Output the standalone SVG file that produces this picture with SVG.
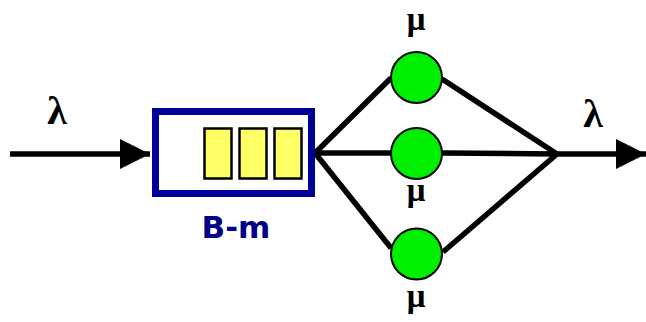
<svg xmlns="http://www.w3.org/2000/svg" width="646" height="322" viewBox="0 0 646 322">
<style>
.ln{stroke:#000;stroke-width:5.5;fill:none}
.srv{fill:#00ee00;stroke:#000;stroke-width:2}
.cell{fill:#ffff66;stroke:#000;stroke-width:2.5}
.gr{font-family:"Liberation Serif","Times New Roman",serif;font-weight:bold;fill:#000;text-anchor:middle}
.mu{font-size:33px}
.lab{font-family:"DejaVu Sans",Verdana,sans-serif;font-weight:bold;fill:#000088;text-anchor:middle}
</style>
<defs>
<marker id="ah" markerUnits="userSpaceOnUse" markerWidth="30" markerHeight="30" refX="30" refY="15" orient="auto">
<path d="M0,0 L30,15 L0,30 Z" fill="#000"/>
</marker>
</defs>
<rect width="646" height="322" fill="#fff"/>
<g id="connectors">
<line class="ln" x1="10" y1="154" x2="150" y2="154" marker-end="url(#ah)"/>
<line class="ln" x1="315" y1="153" x2="391" y2="78"/>
<line class="ln" x1="315" y1="153" x2="391" y2="153"/>
<line class="ln" x1="315" y1="153" x2="391" y2="248"/>
<line class="ln" x1="442" y1="79" x2="557" y2="154"/>
<line class="ln" x1="442" y1="153" x2="557" y2="154"/>
<line class="ln" x1="443" y1="252" x2="557" y2="154"/>
<line class="ln" x1="555" y1="154" x2="646" y2="154" marker-end="url(#ah)"/>
</g>
<g id="queue">
<rect x="155.5" y="111.5" width="156" height="82" fill="#fff" stroke="#000099" stroke-width="7"/>
<rect class="cell" x="204.5" y="128.5" width="27" height="50"/>
<rect class="cell" x="239.5" y="128.5" width="27" height="50"/>
<rect class="cell" x="274.5" y="128.5" width="27" height="50"/>
<text class="lab" x="236" y="238" font-size="31">B-m</text>
</g>
<g id="server1">
<circle class="srv" cx="416.5" cy="77.5" r="25.5"/>
<text class="gr mu" x="416" y="30">μ</text>
</g>
<g id="server2">
<circle class="srv" cx="416.5" cy="153.5" r="25.5"/>
<text class="gr mu" x="416" y="201">μ</text>
</g>
<g id="server3">
<circle class="srv" cx="416.5" cy="254" r="25.5"/>
<text class="gr mu" x="416" y="307">μ</text>
</g>
<g id="labels">
<text class="gr" x="57" y="124" font-size="40">λ</text>
<text class="gr" x="593" y="127" font-size="40">λ</text>
</g>
</svg>
